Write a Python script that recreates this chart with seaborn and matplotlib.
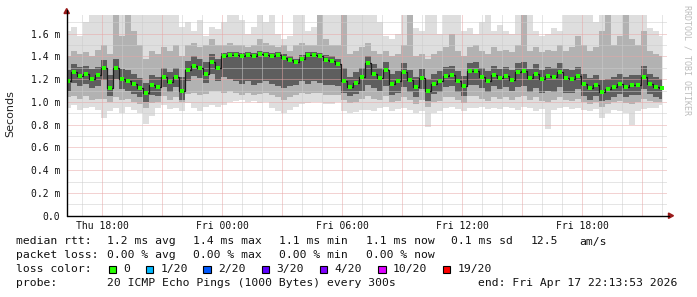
import numpy as np
import pandas as pd
import matplotlib
matplotlib.use("Agg")
import matplotlib.pyplot as plt
from matplotlib.lines import Line2D
from matplotlib.patches import Polygon, Rectangle
import seaborn as sns

# ---------------- data (values in milliseconds) ----------------
start_time = "2026-04-16 16:18"
step = "18min"
x_start = "2026-04-16 16:13:53"
x_end = "2026-04-17 22:13:53"

median_ms = [
    1.185, 1.26, 1.23, 1.245, 1.205, 1.235, 1.30, 1.125, 1.30, 1.205, 1.185, 1.155, 1.12, 1.075, 1.15, 1.13, 1.22, 1.175, 1.22, 1.10, 1.28, 1.32, 1.30, 1.25, 1.35,
    1.30, 1.40, 1.41, 1.41, 1.40, 1.41, 1.40, 1.42, 1.41, 1.40, 1.41, 1.39, 1.37, 1.35, 1.38, 1.41, 1.41, 1.40, 1.37, 1.36, 1.33, 1.18, 1.13, 1.17, 1.22,
    1.34, 1.25, 1.21, 1.28, 1.16, 1.18, 1.26, 1.19, 1.13, 1.21, 1.10, 1.16, 1.18, 1.23, 1.24, 1.18, 1.14, 1.27, 1.27, 1.22, 1.18, 1.24, 1.21, 1.23, 1.19,
    1.26, 1.27, 1.21, 1.25, 1.20, 1.23, 1.22, 1.26, 1.21, 1.20, 1.23, 1.16, 1.12, 1.15, 1.09, 1.11, 1.13, 1.16, 1.13, 1.15, 1.15, 1.22, 1.16, 1.13, 1.12,
]
light_hi = [
    1.62, 1.66, 1.58, 1.70, 1.80, 1.80, 1.80, 1.80, 1.80, 1.80, 1.80, 1.80, 1.80, 1.80, 1.80, 1.80, 1.80, 1.80, 1.80, 1.66, 1.70, 1.62, 1.72, 1.58, 1.66,
    1.64, 1.70, 1.80, 1.80, 1.72, 1.60, 1.66, 1.80, 1.70, 1.80, 1.60, 1.55, 1.58, 1.80, 1.80, 1.62, 1.66, 1.80, 1.80, 1.80, 1.80, 1.80, 1.80, 1.80, 1.80,
    1.80, 1.80, 1.70, 1.58, 1.55, 1.60, 1.80, 1.80, 1.65, 1.62, 1.80, 1.80, 1.60, 1.80, 1.80, 1.80, 1.62, 1.65, 1.60, 1.70, 1.80, 1.62, 1.68, 1.62, 1.60,
    1.80, 1.80, 1.80, 1.62, 1.58, 1.60, 1.65, 1.62, 1.80, 1.80, 1.80, 1.80, 1.80, 1.70, 1.80, 1.80, 1.80, 1.80, 1.80, 1.80, 1.80, 1.80, 1.65, 1.62, 1.58,
]
light_lo = [
    0.95, 0.97, 0.93, 0.95, 0.96, 0.93, 0.86, 0.92, 0.95, 0.90, 0.96, 0.93, 0.90, 0.81, 0.88, 0.95, 0.97, 0.94, 0.95, 0.92, 0.99, 0.95, 0.92, 0.96, 0.97,
    0.96, 0.97, 1.00, 1.01, 1.02, 1.00, 1.01, 0.99, 1.00, 0.95, 0.92, 0.90, 0.93, 0.96, 0.98, 0.99, 1.00, 1.00, 0.98, 0.98, 1.00, 0.92, 0.90, 0.91, 0.93,
    0.93, 0.92, 0.95, 0.96, 0.92, 0.94, 0.95, 0.93, 0.90, 0.92, 0.78, 0.90, 0.92, 0.95, 0.96, 0.94, 0.92, 0.95, 0.95, 0.96, 0.94, 0.95, 0.94, 0.96, 0.95,
    0.93, 0.96, 0.95, 0.92, 0.94, 0.76, 0.93, 0.95, 0.96, 0.94, 0.95, 0.93, 0.92, 0.94, 0.86, 0.90, 0.93, 0.92, 0.90, 0.80, 0.92, 0.94, 0.95, 0.95, 0.97,
]
mid_hi = [
    1.40, 1.45, 1.42, 1.44, 1.40, 1.46, 1.50, 1.42, 1.80, 1.58, 1.80, 1.62, 1.50, 1.38, 1.45, 1.42, 1.48, 1.45, 1.50, 1.40, 1.50, 1.52, 1.48, 1.50, 1.55,
    1.50, 1.50, 1.52, 1.50, 1.50, 1.48, 1.50, 1.55, 1.52, 1.50, 1.48, 1.50, 1.45, 1.50, 1.52, 1.50, 1.50, 1.80, 1.55, 1.50, 1.50, 1.80, 1.42, 1.45, 1.48,
    1.52, 1.45, 1.42, 1.45, 1.40, 1.42, 1.50, 1.80, 1.40, 1.42, 1.38, 1.42, 1.45, 1.48, 1.60, 1.45, 1.40, 1.48, 1.50, 1.45, 1.42, 1.48, 1.45, 1.46, 1.44,
    1.50, 1.80, 1.45, 1.48, 1.44, 1.46, 1.45, 1.50, 1.45, 1.48, 1.58, 1.50, 1.45, 1.48, 1.62, 1.80, 1.50, 1.58, 1.80, 1.55, 1.50, 1.62, 1.45, 1.42, 1.40,
]
mid_lo = [
    1.04, 1.05, 1.03, 1.05, 1.02, 1.03, 1.03, 1.00, 1.04, 1.02, 1.03, 1.00, 0.98, 0.95, 0.99, 1.00, 1.05, 1.02, 1.04, 1.00, 1.07, 1.08, 1.06, 1.07, 1.10,
    1.10, 1.08, 1.10, 1.08, 1.06, 1.08, 1.06, 1.07, 1.08, 1.06, 1.04, 1.02, 1.04, 1.06, 1.08, 1.07, 1.08, 1.08, 1.06, 1.06, 1.06, 1.02, 0.99, 1.00, 1.03,
    1.05, 1.03, 1.02, 1.05, 1.00, 1.01, 1.04, 1.02, 0.98, 1.02, 0.96, 1.00, 1.01, 1.04, 1.04, 1.02, 0.99, 1.05, 1.05, 1.03, 1.01, 1.04, 1.03, 1.04, 1.02,
    1.04, 1.05, 1.02, 1.04, 1.01, 1.00, 1.02, 1.04, 1.02, 1.01, 1.03, 1.00, 0.98, 1.00, 0.96, 0.98, 1.00, 1.01, 0.99, 0.98, 1.00, 1.03, 1.01, 1.00, 1.00,
]
dark_hi = [
    1.28, 1.33, 1.31, 1.32, 1.29, 1.31, 1.37, 1.24, 1.38, 1.29, 1.28, 1.25, 1.21, 1.17, 1.24, 1.22, 1.30, 1.26, 1.30, 1.22, 1.36, 1.40, 1.38, 1.35, 1.42,
    1.38, 1.43, 1.44, 1.44, 1.43, 1.44, 1.43, 1.45, 1.44, 1.43, 1.44, 1.42, 1.40, 1.38, 1.41, 1.44, 1.44, 1.43, 1.41, 1.40, 1.38, 1.30, 1.22, 1.26, 1.30,
    1.40, 1.33, 1.30, 1.35, 1.25, 1.27, 1.34, 1.28, 1.22, 1.29, 1.20, 1.25, 1.27, 1.31, 1.32, 1.27, 1.23, 1.34, 1.35, 1.30, 1.27, 1.32, 1.29, 1.31, 1.28,
    1.34, 1.35, 1.29, 1.33, 1.28, 1.31, 1.30, 1.34, 1.29, 1.28, 1.31, 1.25, 1.21, 1.24, 1.19, 1.20, 1.22, 1.25, 1.22, 1.24, 1.24, 1.32, 1.25, 1.22, 1.20,
]
dark_lo = [
    1.10, 1.17, 1.14, 1.16, 1.12, 1.14, 1.19, 1.05, 1.20, 1.11, 1.10, 1.07, 1.04, 1.00, 1.06, 1.05, 1.13, 1.09, 1.13, 1.02, 1.18, 1.23, 1.21, 1.17, 1.25,
    1.18, 1.22, 1.20, 1.18, 1.16, 1.18, 1.15, 1.17, 1.18, 1.16, 1.14, 1.12, 1.14, 1.15, 1.18, 1.16, 1.18, 1.17, 1.15, 1.15, 1.14, 1.08, 1.05, 1.07, 1.10,
    1.15, 1.12, 1.10, 1.14, 1.06, 1.08, 1.13, 1.09, 1.04, 1.11, 1.01, 1.07, 1.09, 1.13, 1.14, 1.09, 1.05, 1.15, 1.15, 1.12, 1.09, 1.14, 1.11, 1.13, 1.10,
    1.13, 1.14, 1.09, 1.12, 1.08, 1.10, 1.09, 1.13, 1.08, 1.08, 1.11, 1.05, 1.02, 1.05, 1.01, 1.02, 1.04, 1.07, 1.04, 1.06, 1.06, 1.11, 1.07, 1.04, 1.03,
]

ytick_vals = [0.0, 0.2, 0.4, 0.6, 0.8, 1.0, 1.2, 1.4, 1.6]
ytick_labels = ["0.0", "0.2 m", "0.4 m", "0.6 m", "0.8 m", "1.0 m", "1.2 m", "1.4 m", "1.6 m"]
xtick_times = ["2026-04-16 18:00", "2026-04-17 00:00", "2026-04-17 06:00",
               "2026-04-17 12:00", "2026-04-17 18:00"]
xtick_labels = ["Thu 18:00", "Fri 00:00", "Fri 06:00", "Fri 12:00", "Fri 18:00"]

loss_labels = ["0", "1/20", "2/20", "3/20", "4/20", "10/20", "19/20"]
loss_colors = ["#26ff00", "#00b8ff", "#0059ff", "#5e00ff", "#7e00ff", "#dd00ff", "#ff0000"]

rtt_items = ["1.2 ms avg", "1.4 ms max", "1.1 ms min", "1.1 ms now", "0.1 ms sd", "12.5", "am/s"]
loss_items = ["0.00 % avg", "0.00 % max", "0.00 % min", "0.00 % now"]
probe_text = "20 ICMP Echo Pings (1000 Bytes) every 300s"
end_text = "end: Fri Apr 17 22:13:53 2026"

# ---------------- figure ----------------
sns.set_style("white")
plt.rcParams["font.family"] = ["DejaVu Sans Mono", "DejaVu Sans"]

W, H = 697, 297
fig = plt.figure(figsize=(W / 100, H / 100), dpi=100)
fig.patch.set_facecolor("white")

def fx(x):
    return x / W

def fy(y):
    return 1 - y / H

ax_left, ax_right, ax_top, ax_bot = 66.7, 666.7, 15.0, 215.7
ax = fig.add_axes([fx(ax_left), fy(ax_bot), (ax_right - ax_left) / W, (ax_bot - ax_top) / H])
ax.set_facecolor("white")

df = pd.DataFrame({
    "time": pd.date_range(start_time, periods=len(median_ms), freq=step),
    "median": median_ms,
    "light_lo": light_lo, "light_hi": light_hi,
    "mid_lo": mid_lo, "mid_hi": mid_hi,
    "dark_lo": dark_lo, "dark_hi": dark_hi,
})
t = df["time"].values

ax.fill_between(t, df["light_lo"], df["light_hi"], step="mid", color="#dedede", lw=0, zorder=1)
ax.fill_between(t, df["mid_lo"], df["mid_hi"], step="mid", color="#b2b2b2", lw=0, zorder=1.1)
ax.fill_between(t, df["dark_lo"], df["dark_hi"], step="mid", color="#5e5e5e", lw=0, zorder=1.2)

sns.lineplot(data=df, x="time", y="median", ax=ax, color="#1a1a1a", lw=0.9,
             drawstyle="steps-mid", estimator=None, sort=False, zorder=3)
sns.scatterplot(data=df, x="time", y="median", ax=ax, color=loss_colors[0], marker="s",
                s=7, linewidth=0, zorder=4)

ax.set_xlim(pd.Timestamp(x_start), pd.Timestamp(x_end))
ax.set_ylim(0, (ax_bot - ax_top) / 113.75)

# grid (dotted)
minor_c, major_c = "#cccccc", "#e8a6a6"
dot = (0, (1, 1))
for v in np.arange(0.1, 1.8, 0.2):
    ax.axhline(v, color=minor_c, lw=0.72, ls=dot, zorder=2)
for v in ytick_vals[1:]:
    ax.axhline(v, color=major_c, lw=0.72, ls=dot, zorder=2)
hours = pd.date_range("2026-04-16 17:00", "2026-04-17 22:00", freq="h")
for h in hours:
    ax.axvline(h, color=major_c if h.hour % 3 == 0 else minor_c, lw=0.72, ls=dot, zorder=2)

for s in ax.spines.values():
    s.set_visible(False)
ax.set_yticks(ytick_vals)
ax.set_yticklabels(ytick_labels, fontsize=7, color="#111111")
ax.set_xticks([pd.Timestamp(v) for v in xtick_times])
ax.set_xticklabels(xtick_labels, fontsize=7, color="#111111")
ax.set_xticks([h for h in hours if h.hour % 3 == 0], minor=True)
ax.tick_params(axis="y", length=0, pad=4.8)
ax.tick_params(axis="x", which="both", length=2.2, width=0.72, color=major_c, pad=1.8)
ax.set_xlabel("")
ax.set_ylabel("")

# axes lines and arrows
arrow_c = "#9b1b1b"
fig.add_artist(Line2D([fx(ax_left), fx(ax_left)], [fy(ax_bot), fy(10)], color="black", lw=1.0))
fig.add_artist(Line2D([fx(ax_left), fx(669)], [fy(ax_bot), fy(ax_bot)], color="black", lw=1.0))
fig.add_artist(Polygon([(fx(64.0), fy(13.5)), (fx(69.4), fy(13.5)), (fx(66.7), fy(8.5))],
                       closed=True, color=arrow_c, transform=fig.transFigure))
fig.add_artist(Polygon([(fx(668.5), fy(213.0)), (fx(668.5), fy(218.4)), (fx(673.5), fy(215.7))],
                       closed=True, color=arrow_c, transform=fig.transFigure))

# labels
fig.text(fx(10.7), fy(113.5), "Seconds", rotation=90, ha="center", va="center",
         fontsize=8, family="DejaVu Sans", color="#222222")
fig.text(fx(687.5), fy(5), "RRDTOOL / TOBI OETIKER", rotation=-90, ha="center", va="top",
         fontsize=6, color="#bcbcbc")

fs = 8.2
tc = "#111111"
rows_y = [241.5, 255.3, 269.3, 283.3]
fig.text(fx(16), fy(rows_y[0]), "median rtt:", fontsize=fs, va="center", color=tc)
for xp, s in zip([107.3, 193.3, 279.3, 366, 451, 530.7, 579.3], rtt_items):
    fig.text(fx(xp), fy(rows_y[0]), s, fontsize=fs, va="center", color=tc)
fig.text(fx(16), fy(rows_y[1]), "packet loss:", fontsize=fs, va="center", color=tc)
for xp, s in zip([107.3, 193.3, 279.3, 366], loss_items):
    fig.text(fx(xp), fy(rows_y[1]), s, fontsize=fs, va="center", color=tc)
fig.text(fx(16), fy(rows_y[2]), "loss color:", fontsize=fs, va="center", color=tc)
sq_x = [108.7, 146.0, 203.3, 261.7, 320.0, 378.3, 442.7]
for xp, lab, col in zip(sq_x, loss_labels, loss_colors):
    fig.add_artist(Rectangle((fx(xp), fy(rows_y[2] + 3.7)), 7.3 / W, 7.3 / H,
                             facecolor=col, edgecolor="black", lw=0.8, transform=fig.transFigure))
    fig.text(fx(xp + 14.5), fy(rows_y[2]), lab, fontsize=fs, va="center", color=tc)
fig.text(fx(16), fy(rows_y[3]), "probe:", fontsize=fs, va="center", color=tc)
fig.text(fx(107.3), fy(rows_y[3]), probe_text, fontsize=fs, va="center", color=tc)
fig.text(fx(478.3), fy(rows_y[3]), end_text, fontsize=fs, va="center", color=tc)

fig.savefig("out.png", dpi=100, facecolor="white")
